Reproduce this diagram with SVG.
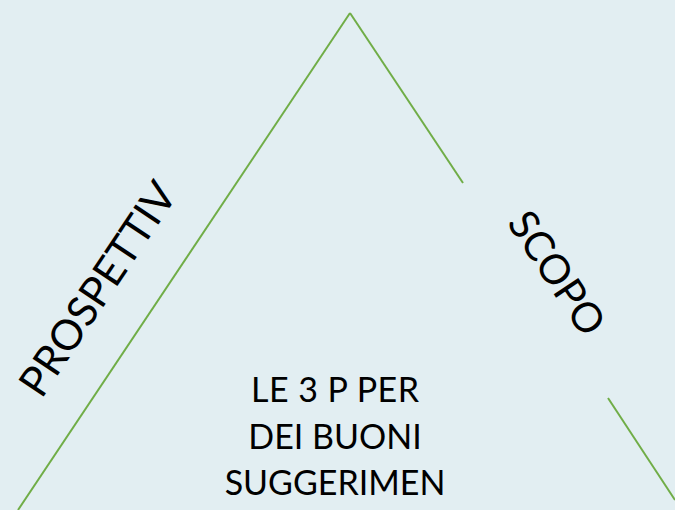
<svg xmlns="http://www.w3.org/2000/svg" width="675" height="510" viewBox="0 0 675 510">
<style>
.bg{fill:#e2eef2}
.ln{stroke:#70ad47;stroke-width:2;fill:none}
.t{font-family:Lato,"Open Sans","Liberation Sans",sans-serif;font-size:34px;fill:#000}
.r{font-size:42px}
.s{font-size:41px}
</style>
<rect class="bg" x="0" y="0" width="675" height="510"/>
<g id="connectors">
<line class="ln" x1="18" y1="510" x2="350" y2="13"/>
<line class="ln" x1="350" y1="13" x2="463" y2="183"/>
<line class="ln" x1="608" y1="398" x2="675" y2="500"/>
</g>
<g id="prospettiv">
<text class="t r" text-anchor="middle" transform="translate(110,297) rotate(-56.3)">PROSPETTIV</text>
</g>
<g id="scopo">
<text class="t s" text-anchor="middle" transform="translate(545,281) rotate(56.3)">SCOPO</text>
</g>
<g id="center">
<text class="t" text-anchor="middle" x="335" y="402" textLength="168" lengthAdjust="spacing">LE 3 P PER</text>
<text class="t" text-anchor="middle" x="335" y="449">DEI BUONI</text>
<text class="t" text-anchor="middle" x="335" y="495">SUGGERIMEN</text>
</g>
</svg>
